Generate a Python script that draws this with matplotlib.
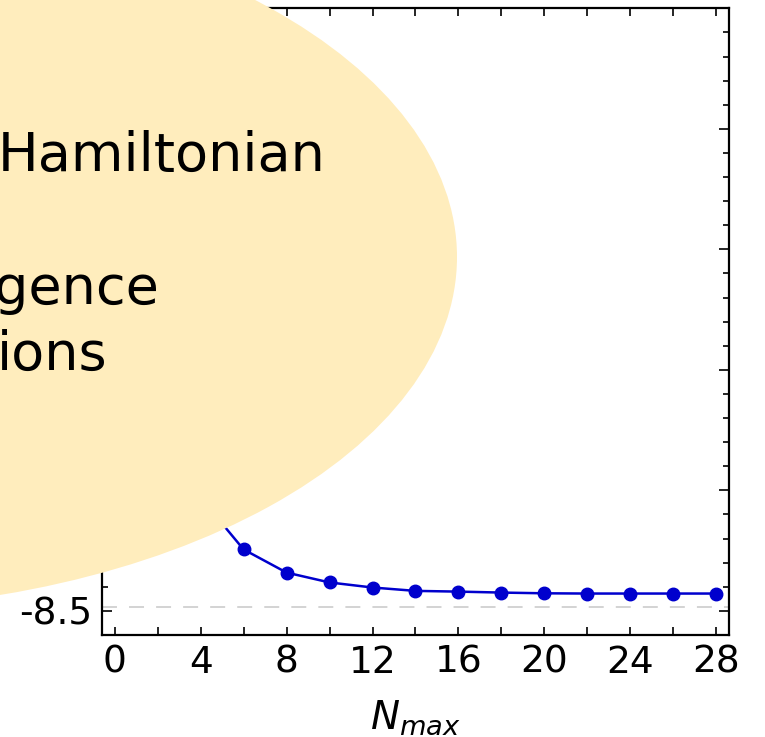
#%% Imports
import matplotlib
matplotlib.use('Agg')
import matplotlib.pyplot as plt
from matplotlib.patches import Ellipse
from matplotlib.ticker import MultipleLocator

plt.rcParams['axes.unicode_minus'] = False

#%% Dados (energia vs Nmax)
nmax = [0, 2, 4, 6, 8, 10, 12, 14, 16, 18, 20, 22, 24, 26, 28]
energia = [-6.60, -7.55, -8.03, -8.245, -8.341, -8.382, -8.403, -8.417,
           -8.420, -8.424, -8.427, -8.428, -8.428, -8.428, -8.428]
energia_ref = -8.483

xticks = [0, 4, 8, 12, 16, 20, 24, 28]
yticks = [-8.5, -8.0, -7.5, -7.0, -6.5]
# so o -8.5 aparece, os outros ficam por baixo da elipse
ytick_labels = ['-8.5', '', '', '', '']
linhas_texto = ['Hamiltonian', 'gence', 'ions']
base_texto = [170.7, 304, 370]   # baseline em pixels (a partir do topo)
x_texto = [-2, -6, -3]           # inicio em pixels (texto cortado na borda)

#%% Figura
W, H = 765, 737
fig = plt.figure(figsize=(W / 100, H / 100), dpi=100)
ax = fig.add_axes([101.7 / W, 1 - 635 / H, (729.3 - 101.7) / W, (635 - 8.3) / H])

ax.axhline(energia_ref, color='#c8c8c8', lw=1.1, ls=(0, (9.8, 7.9)), zorder=1)
ax.plot(nmax, energia, '-o', color='#0000cd', lw=1.8, markersize=9, zorder=2)

ax.set_xlim(-0.6, 28.6)
ax.set_ylim(-8.6, -6.0)
ax.set_xticks(xticks)
ax.xaxis.set_minor_locator(MultipleLocator(2))
ax.set_yticks(yticks)
ax.set_yticklabels(ytick_labels)
ax.yaxis.set_minor_locator(MultipleLocator(0.1))

ax.tick_params(which='both', direction='in', top=True, right=True, width=1.2)
ax.tick_params(axis='x', which='both', length=6, labelsize=27, pad=7)
ax.tick_params(axis='y', which='major', length=7.2, labelsize=27, pad=7)
ax.tick_params(axis='y', which='minor', length=4.3)
for s in ax.spines.values():
    s.set_linewidth(1.6)

ax.set_xlabel('$N_{max}$', fontsize=28, labelpad=13)

# elipse por cima do grafico
elipse = Ellipse((-185 / W, 1 - 257 / H), 1284 / W, 706 / H,
                 transform=fig.transFigure, facecolor='#ffedbd',
                 edgecolor='none', zorder=5)
fig.patches.append(elipse)

for txt, xb, yb in zip(linhas_texto, x_texto, base_texto):
    fig.text(xb / W, 1 - yb / H, txt, fontsize=39, va='baseline', ha='left',
             color='black', zorder=6)

fig.savefig('out.png', dpi=100)
